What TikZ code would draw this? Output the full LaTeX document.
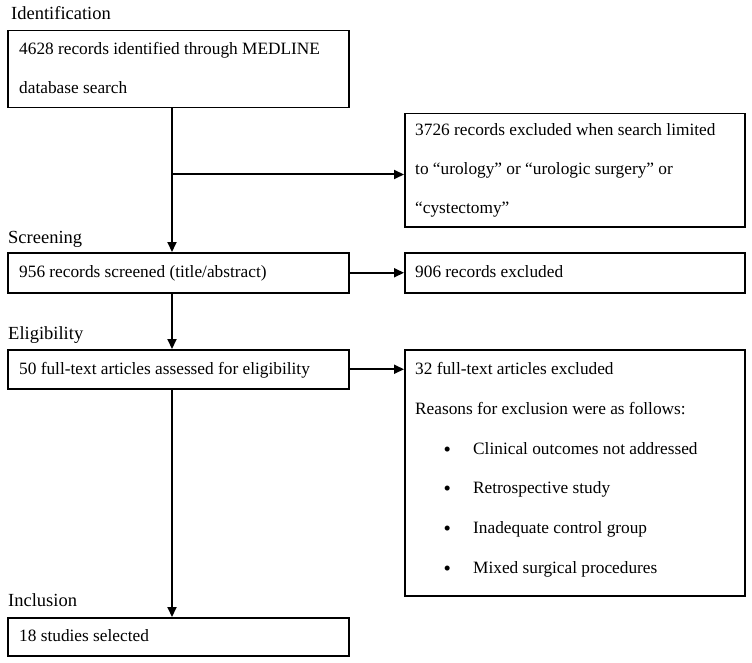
\documentclass[tikz,border=0pt]{standalone}
\usepackage{fontspec}
\setmainfont{Liberation Serif}
\usetikzlibrary{arrows.meta}
\tikzset{
  box/.style={draw, line width=1.5pt, anchor=north west, inner sep=0pt, minimum width=341pt},
  txt/.style={anchor=base west, inner sep=0pt, font=\fontsize{17.3}{20}\selectfont},
  bul/.style={anchor=base west, inner sep=0pt, font=\fontsize{21}{24}\selectfont},
  stage/.style={anchor=base west, inner sep=0pt, font=\fontsize{18.5}{21}\selectfont},
  arr/.style={line width=2pt, -{Triangle[length=10pt,width=9pt]}}
}
\begin{document}
\begin{tikzpicture}[x=1pt,y=-1pt]
\useasboundingbox (0,0) rectangle (752,663);
% stage labels
\node[stage] (sid) at (11,19.5) {Identification};
\node[stage] (ssc) at (8,243) {Screening};
\node[stage] (sel) at (8,339) {Eligibility};
\node[stage] (sin) at (8,606.5) {Inclusion};
% boxes
\node[box, minimum height=77pt] (b1) at (7,30) {};
\node[box, minimum width=340pt, minimum height=113pt] (b2) at (404,113) {};
\node[box, minimum height=40pt] (b3) at (7,252) {};
\node[box, minimum width=340pt, minimum height=40pt] (b4) at (404,252) {};
\node[box, minimum height=39pt] (b5) at (7,349) {};
\node[box, minimum width=340pt, minimum height=246pt] (b6) at (404,349) {};
\node[box, minimum height=38pt] (b7) at (7,617) {};
% texts
\node[txt] (t1a) at (19,55) {4628 records identified through MEDLINE};
\node[txt] (t1b) at (19,94) {database search};
\node[txt] (t2a) at (415,136) {3726 records excluded when search limited};
\node[txt] (t2b) at (415,175) {to “urology” or “urologic surgery” or};
\node[txt] (t2c) at (415,214) {“cystectomy”};
\node[txt] (t3) at (19,277.5) {956 records screened (title/abstract)};
\node[txt] (t4) at (415,277.5) {906 records excluded};
\node[txt] (t5) at (19,374) {50 full-text articles assessed for eligibility};
\node[txt] (t6a) at (415,374.5) {32 full-text articles excluded};
\node[txt] (t6b) at (415,414.3) {Reasons for exclusion were as follows:};
\node[bul] (k1) at (443.5,456.1) {\textbullet};
\node[txt] (t6c) at (473,454.1) {Clinical outcomes not addressed};
\node[bul] (k2) at (443.5,495.9) {\textbullet};
\node[txt] (t6d) at (473,493.9) {Retrospective study};
\node[bul] (k3) at (443.5,535.7) {\textbullet};
\node[txt] (t6e) at (473,533.7) {Inadequate control group};
\node[bul] (k4) at (443.5,575.5) {\textbullet};
\node[txt] (t6f) at (473,573.5) {Mixed surgical procedures};
\node[txt] (t7) at (19,641.5) {18 studies selected};
% connectors
\coordinate (v) at (172,0);
\coordinate (br) at (172,174.5);
\draw[arr] (b1.south -| v) -- (b3.north -| v);
\draw[arr] (br) -- (br -| b2.west);
\draw[arr] (b3.east) -- (b4.west);
\draw[arr] (b3.south -| v) -- (b5.north -| v);
\draw[arr] (b5.east) -- (b5.east -| b6.west);
\draw[arr] (b5.south -| v) -- (b7.north -| v);
\end{tikzpicture}
\end{document}
